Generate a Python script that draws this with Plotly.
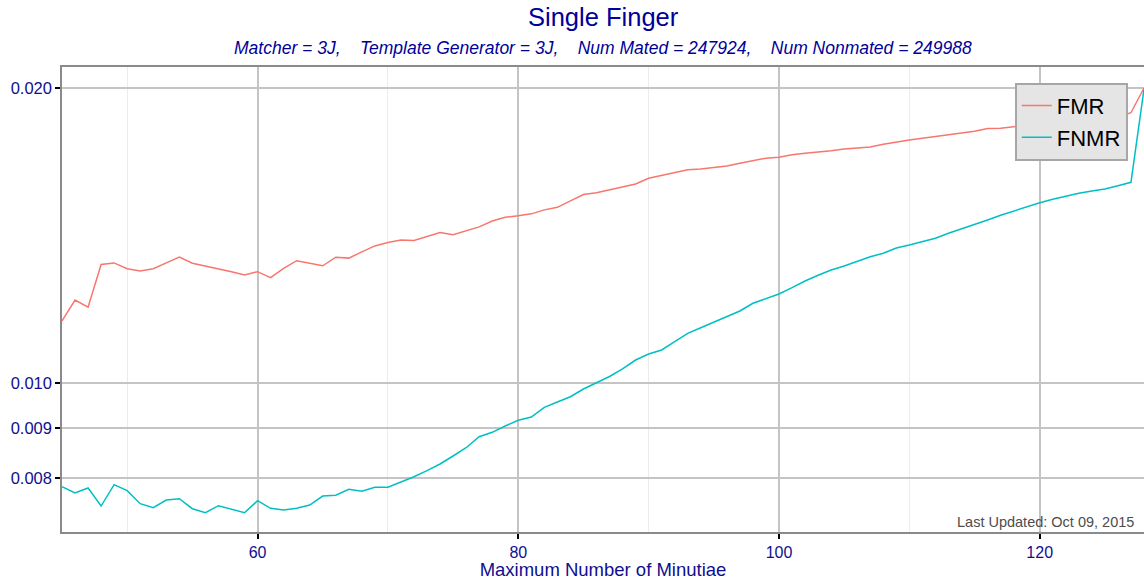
import plotly.graph_objects as go

minutiae = list(range(45, 129))

fmr = [0.01157, 0.01215, 0.01195, 0.01321, 0.01326, 0.01308, 0.01301, 0.01308, 0.01326, 0.01344,
       0.01325, 0.01317, 0.01308, 0.01299, 0.01289, 0.01299, 0.01281, 0.01309, 0.01333, 0.01325,
       0.01317, 0.01344, 0.01341, 0.01361, 0.01380, 0.01391, 0.01399, 0.01398, 0.01412, 0.01424,
       0.01417, 0.01429, 0.01443, 0.01463, 0.01476, 0.01481, 0.01488, 0.01502, 0.01511, 0.01534,
       0.01557, 0.01564, 0.01575, 0.01587, 0.01596, 0.01618, 0.01629, 0.01639, 0.01650, 0.01653,
       0.01659, 0.01665, 0.01676, 0.01686, 0.01696, 0.01700, 0.01710, 0.01716, 0.01720, 0.01726,
       0.01733, 0.01737, 0.01741, 0.01752, 0.01762, 0.01770, 0.01777, 0.01784, 0.01794, 0.01801,
       0.01807, 0.01818, 0.01820, 0.01826, 0.01832, 0.01838, 0.01842, 0.01849, 0.01853, 0.01858,
       0.01862, 0.01868, 0.01887, 0.02000]

fnmr = [0.007838, 0.007723, 0.007814, 0.007490, 0.007875, 0.007765, 0.007531, 0.007461, 0.007597, 0.007620,
        0.007443, 0.007373, 0.007496, 0.007433, 0.007373, 0.007584, 0.007450, 0.007420, 0.007450, 0.007508,
        0.007668, 0.007683, 0.007790, 0.007754, 0.007827, 0.007827, 0.007919, 0.008024, 0.008138, 0.008267,
        0.008424, 0.008590, 0.008815, 0.008906, 0.009039, 0.009161, 0.009232, 0.009445, 0.009563, 0.009683,
        0.009860, 0.010007, 0.010154, 0.010335, 0.010555, 0.010706, 0.010807, 0.011019, 0.011239, 0.011388,
        0.011535, 0.011678, 0.011844, 0.012060, 0.012202, 0.012326, 0.012510, 0.012708, 0.012880, 0.013041,
        0.013165, 0.013320, 0.013455, 0.013564, 0.013733, 0.013831, 0.013929, 0.014051, 0.014217, 0.014361,
        0.014497, 0.014668, 0.014830, 0.014981, 0.015133, 0.015276, 0.015399, 0.015520, 0.015618, 0.015703,
        0.015774, 0.015898, 0.016025, 0.019950]

y_tickvals = [0.008, 0.009, 0.010, 0.020]
y_ticktext = ["0.008", "0.009", "0.010", "0.020"]
x_tickvals = [60, 80, 100, 120]
x_minorvals = [50, 70, 90, 110]

title_text = "Single Finger"
subtitle_parts = ["Matcher = 3J,", "Template Generator = 3J,", "Num Mated = 247924,", "Num Nonmated = 249988"]
x_title = "Maximum Number of Minutiae"
note_text = "Last Updated: Oct 09, 2015"

FONT = "Liberation Sans, Arial, sans-serif"
BLUE = "#0f0f8f"

fig = go.Figure()
fig.add_trace(go.Scatter(x=minutiae, y=fmr, mode="lines", name="FMR",
                         line=dict(color="#F8766D", width=1.5)))
fig.add_trace(go.Scatter(x=minutiae, y=fnmr, mode="lines", name="FNMR",
                         line=dict(color="#00BFC4", width=1.5)))

fig.update_layout(
    width=1144, height=580,
    margin=dict(l=62, r=0, t=67, b=48),
    paper_bgcolor="white", plot_bgcolor="white",
    font=dict(family=FONT, color=BLUE),
    showlegend=True,
    legend=dict(x=0.985, y=0.966, xanchor="right", yanchor="top",
                bgcolor="#e5e5e5", bordercolor="#a6a6a6", borderwidth=2,
                font=dict(size=22, color="black", family=FONT),
                tracegroupgap=0, itemwidth=30),
    xaxis=dict(range=[45, 128], tickvals=x_tickvals,
               showgrid=True, gridcolor="#c4c4c4", gridwidth=1.5,
               showline=True, linecolor="#8a8a8a", linewidth=1.5, mirror=True,
               ticks="outside", ticklen=5, tickcolor="black", tickwidth=1.5,
               tickfont=dict(size=16, color=BLUE),
               minor=dict(tickvals=x_minorvals, showgrid=True, gridcolor="#ececec", gridwidth=1.2, ticks=""),
               zeroline=False,
               title=dict(text=x_title, font=dict(size=18.5, color=BLUE), standoff=4)),
    yaxis=dict(type="log", range=[-2.15203, -1.67755],
               tickvals=y_tickvals, ticktext=y_ticktext,
               showgrid=True, gridcolor="#c4c4c4", gridwidth=1.5,
               showline=True, linecolor="#8a8a8a", linewidth=1.5, mirror=False,
               ticks="outside", ticklen=5, tickcolor="black", tickwidth=1.5,
               tickfont=dict(size=16.5, color=BLUE),
               zeroline=False),
)

subtitle_text = "&nbsp;&nbsp;&nbsp; ".join(subtitle_parts)

fig.add_annotation(text=title_text, xref="paper", yref="paper", x=0.5, y=1.0, yshift=50,
                   xanchor="center", yanchor="middle", showarrow=False,
                   font=dict(size=25.5, color="#000099", family=FONT))
fig.add_annotation(text="<i>" + subtitle_text + "</i>", xref="paper", yref="paper", x=0.5, y=1.0, yshift=19,
                   xanchor="center", yanchor="middle", showarrow=False,
                   font=dict(size=17.5, color="#000099", family=FONT))
fig.add_annotation(text=note_text, xref="paper", yref="paper", x=0.9925, y=0.0, yshift=10,
                   xanchor="right", yanchor="middle", showarrow=False,
                   font=dict(size=14.5, color="#4d4d4d", family=FONT))

fig.write_html("out.html", config={"displayModeBar": False},
               post_script="document.body.style.margin='0';document.body.style.overflow='hidden';")
